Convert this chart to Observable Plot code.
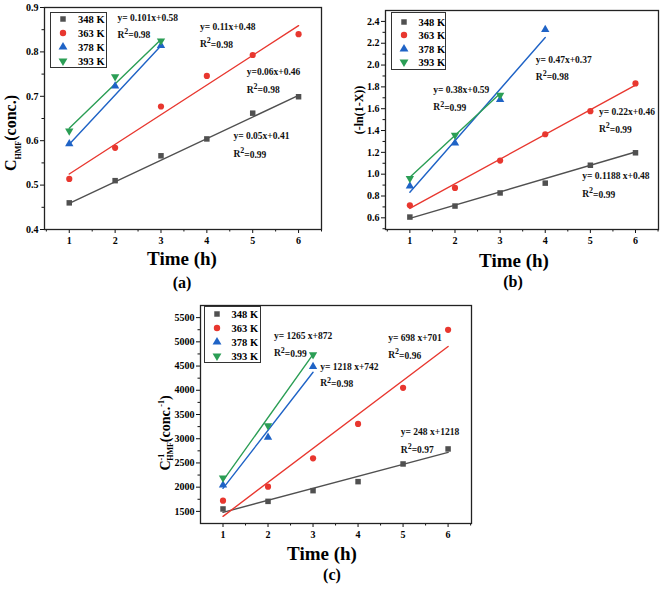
<!DOCTYPE html>
<html><head><meta charset="utf-8">
<script src="https://cdn.jsdelivr.net/npm/d3@7"></script>
<script src="https://cdn.jsdelivr.net/npm/@observablehq/plot@0.6"></script>
<style>
body{margin:0;background:#fff;}
#page{position:relative;width:661px;height:591px;overflow:hidden;font-family:"Liberation Serif","Times New Roman",serif;font-weight:bold;color:#000;}
.panel{position:absolute;}
.lbl{position:absolute;white-space:nowrap;transform:translate(-50%,-50%);line-height:1;}
.ylbl{position:absolute;white-space:nowrap;transform:translate(-50%,-50%) rotate(-90deg);line-height:1;}
.legend{position:absolute;border:1px solid #333;background:#fff;box-sizing:border-box;}
.legend .row{position:absolute;white-space:nowrap;font-size:10.5px;line-height:1;transform:translateY(-50%);}
.legend svg{position:absolute;overflow:visible;}
</style></head><body><div id="page"></div>
<script>
// ---------- shared ----------
const times = [1, 2, 3, 4, 5, 6];
const series = ["348 K", "363 K", "378 K", "393 K"];
const colors = ["#505050", "#e8372f", "#1f63c6", "#2b9e55"];
const symbolNames = ["square", "circle", "triangle", "triangle"];

// ---------- panel (a): C_HMF ----------
const a348 = [0.460, 0.510, 0.566, 0.604, 0.662, 0.699];
const a363 = [0.514, 0.584, 0.677, 0.746, 0.793, 0.840];
const a378 = [0.593, 0.723, 0.814];
const a393 = [0.622, 0.744, 0.825];
const aFitStart = [0.459, 0.525, 0.592, 0.628];
const aFitEnd = [0.702, 0.859, 0.814, 0.828];
const aFitEndTime = [6, 6, 3, 3];
const aNotes = [
  {x: 2.05, y: 0.877, t: "y= 0.101x+0.58"}, {x: 2.05, y: 0.839, t: "R²=0.98"},
  {x: 3.85, y: 0.856, t: "y= 0.11x+0.48"}, {x: 3.85, y: 0.818, t: "R²=0.98"},
  {x: 4.87, y: 0.754, t: "y=0.06x+0.46"}, {x: 4.87, y: 0.715, t: "R²=0.98"},
  {x: 4.58, y: 0.610, t: "y= 0.05x+0.41"}, {x: 4.58, y: 0.570, t: "R²=0.99"}
];
const aYTicks = [0.4, 0.5, 0.6, 0.7, 0.8, 0.9];

// ---------- panel (b): -ln(1-X) ----------
const b348 = [0.607, 0.708, 0.828, 0.918, 1.082, 1.196];
const b363 = [0.715, 0.874, 1.125, 1.366, 1.577, 1.832];
const b378 = [0.890, 1.286, 1.684, 2.326];
const b393 = [0.962, 1.357, 1.724];
const bFitStart = [0.595, 0.686, 0.834, 0.972];
const bFitEnd = [1.203, 1.816, 2.252, 1.740];
const bFitEndTime = [6, 6, 4, 3];
const bNotes = [
  {x: 1.52, y: 1.774, t: "y= 0.38x+0.59"}, {x: 1.52, y: 1.612, t: "R²=0.99"},
  {x: 3.79, y: 2.043, t: "y= 0.47x+0.37"}, {x: 3.79, y: 1.893, t: "R²=0.98"},
  {x: 5.19, y: 1.567, t: "y= 0.22x+0.46"}, {x: 5.19, y: 1.415, t: "R²=0.99"},
  {x: 4.82, y: 0.982, t: "y= 0.1188 x+0.48"}, {x: 4.82, y: 0.820, t: "R²=0.99"}
];
const bYTicks = [0.6, 0.8, 1.0, 1.2, 1.4, 1.6, 1.8, 2.0, 2.2, 2.4];

// ---------- panel (c): 1/C_HMF ----------
const c348 = [1550, 1707, 1928, 2114, 2479, 2789];
const c363 = [1721, 2010, 2595, 3305, 4050, 5248];
const c378 = [2045, 3029, 4490];
const c393 = [2190, 3271, 4735];
const cFitStart = [1480, 1397, 1975, 2134];
const cFitEnd = [2719, 4903, 4372, 4740];
const cFitEndTime = [6, 6, 3, 3];
const cNotes = [
  {x: 2.13, y: 5130, t: "y= 1265 x+872"}, {x: 2.13, y: 4765, t: "R²=0.99"},
  {x: 3.16, y: 4490, t: "y= 1218 x+742"}, {x: 3.16, y: 4145, t: "R²=0.98"},
  {x: 4.67, y: 5074, t: "y= 698 x+701"}, {x: 4.67, y: 4731, t: "R²=0.96"},
  {x: 4.95, y: 3132, t: "y= 248 x+1218"}, {x: 4.95, y: 2775, t: "R²=0.97"}
];
const cYTicks = [1500, 2000, 2500, 3000, 3500, 4000, 4500, 5000, 5500];

// ---------- builders ----------
function points(vals) {
  const rows = [];
  vals.forEach((arr, i) => arr.forEach((v, j) => rows.push({s: series[i], x: times[j], y: v})));
  return rows;
}
function fits(start, end, endT) {
  const rows = [];
  series.forEach((s, i) => { rows.push({s, x: times[0], y: start[i]}); rows.push({s, x: endT[i], y: end[i]}); });
  return rows;
}
function minorOf(ticks) {
  const step = ticks[1] - ticks[0];
  const out = [];
  for (let i = -1; i < ticks.length; i++) out.push(+(ticks[0] + (i + 0.5) * step).toFixed(6));
  return out;
}

function makePanel(cfg) {
  const pts = points(cfg.vals);
  const fl = fits(cfg.fitStart, cfg.fitEnd, cfg.fitEndT);
  const yMinor = minorOf(cfg.yTicks).filter(v => v > cfg.yDomain[0] && v < cfg.yDomain[1]);
  const xMinor = [0.5, 1.5, 2.5, 3.5, 4.5, 5.5, 6.5].filter(v => v > cfg.xDomain[0] && v < cfg.xDomain[1] + 0.001);
  const svg = Plot.plot({
    width: cfg.width, height: cfg.height,
    marginLeft: cfg.ml, marginRight: cfg.mr, marginTop: cfg.mt, marginBottom: cfg.mb,
    style: {fontFamily: '"Liberation Serif","Times New Roman",serif', fontWeight: "bold", fontSize: "10px", color: "#111", background: "transparent", overflow: "visible"},
    x: {domain: cfg.xDomain},
    y: {domain: cfg.yDomain},
    color: {domain: series, range: colors},
    symbol: {domain: series, range: symbolNames},
    marks: [
      Plot.axisY(cfg.yTicks, {tickSize: 4, tickPadding: 2, tickFormat: cfg.yFormat, label: null, fill: "#000"}),
      Plot.axisY(yMinor, {tickSize: 2.5, tickFormat: () => "", label: null}),
      Plot.axisX(times, {tickSize: 4, tickPadding: 3, label: null, fill: "#000"}),
      Plot.axisX(xMinor, {tickSize: 2.5, tickFormat: () => "", label: null}),
      Plot.line(fl, {x: "x", y: "y", z: "s", stroke: "s", strokeWidth: 1.4}),
      Plot.dot(pts.filter(d => d.s !== "393 K"), {x: "x", y: "y", fill: "s", symbol: "s", r: 3.1}),
      Plot.dot(pts.filter(d => d.s === "393 K"), {x: "x", y: "y", fill: "s", symbol: "s", r: 3.1, rotate: 180}),
      Plot.text(cfg.notes, {x: "x", y: "y", text: "t", textAnchor: "start", fontSize: 9.5, fill: "#111", className: "note"}),
      Plot.frame({stroke: "#222", strokeWidth: 1.3})
    ]
  });
  // render R² with a real superscript 2
  d3.select(svg).selectAll("text").each(function() {
    const t = this.textContent;
    if (t.startsWith("R²")) {
      const rest = t.slice(2);
      this.textContent = "";
      d3.select(this).append("tspan").text("R");
      d3.select(this).append("tspan").attr("dy", "-0.45em").attr("font-size", "8px").text("2");
      d3.select(this).append("tspan").attr("dy", "0.45em").text(rest);
    }
  });
  return svg;
}

const page = document.getElementById("page");
function place(el, left, top) {
  const d = document.createElement("div");
  d.className = "panel"; d.style.left = left + "px"; d.style.top = top + "px";
  d.appendChild(el); page.appendChild(d);
}
function label(html, cx, cy, size, cls) {
  const d = document.createElement("div");
  d.className = cls || "lbl"; d.innerHTML = html;
  d.style.left = cx + "px"; d.style.top = cy + "px"; d.style.fontSize = size + "px";
  page.appendChild(d);
}
function legend(left, top, w, h, row0, gap, symX, textX) {
  const box = document.createElement("div");
  box.className = "legend";
  Object.assign(box.style, {left: left + "px", top: top + "px", width: w + "px", height: h + "px"});
  const shapes = [d3.symbolSquare, d3.symbolCircle, d3.symbolTriangle, d3.symbolTriangle];
  const sizes = [30, 32, 34, 34];
  series.forEach((s, i) => {
    const cy = row0 + i * gap;
    const svg = d3.create("svg").attr("width", 1).attr("height", 1)
      .style("left", (symX - 1) + "px").style("top", (cy - 1) + "px");
    svg.append("path").attr("d", d3.symbol(shapes[i], sizes[i])())
      .attr("fill", colors[i]).attr("transform", i === 3 ? "rotate(180)" : null);
    box.appendChild(svg.node());
    const r = document.createElement("div");
    r.className = "row"; r.textContent = s;
    r.style.left = textX + "px"; r.style.top = cy + "px";
    box.appendChild(r);
  });
  page.appendChild(box);
}

// panel a
place(makePanel({
  width: 330, height: 250, ml: 44, mr: 9, mt: 7, mb: 21,
  xDomain: [0.46, 6.5], yDomain: [0.4, 0.9],
  vals: [a348, a363, a378, a393], fitStart: aFitStart, fitEnd: aFitEnd, fitEndT: aFitEndTime,
  yTicks: aYTicks, yFormat: d3.format(".1f"), notes: aNotes
}), 0, 0);
// panel b
place(makePanel({
  width: 331, height: 250, ml: 55, mr: 3, mt: 10, mb: 21,
  xDomain: [0.46, 6.51], yDomain: [0.493, 2.5],
  vals: [b348, b363, b378, b393], fitStart: bFitStart, fitEnd: bFitEnd, fitEndT: bFitEndTime,
  yTicks: bYTicks, yFormat: d3.format(".1f"), notes: bNotes
}), 330, 0);
// panel c
place(makePanel({
  width: 320, height: 250, ml: 40, mr: 9, mt: 10, mb: 22,
  xDomain: [0.5, 6.52], yDomain: [1250, 5750],
  vals: [c348, c363, c378, c393], fitStart: cFitStart, fitEnd: cFitEnd, fitEndT: cFitEndTime,
  yTicks: cYTicks, yFormat: d3.format("d"), notes: cNotes
}), 160, 295);

// axis titles and panel letters
label("Time (h)", 182, 258, 19);
label("(a)", 182, 283, 16);
label("Time (h)", 514, 260, 19);
label("(b)", 513, 282, 16);
label("Time (h)", 322, 553, 19);
label("(c)", 332, 575, 16);
label('C<sub style="font-size:8px">HMF</sub>(conc.)', 13, 133, 16, "ylbl");
label('(-ln(1-X))', 359, 110, 12, "ylbl");
label('C<sup style="font-size:8px">-1</sup><sub style="font-size:8px;margin-left:-7px">HMF</sub>(conc.<sup style="font-size:8px">-1</sup>)', 167, 433, 14, "ylbl");

// legends
legend(50, 12, 57, 56, 6.5, 14, 13, 27);
legend(391, 12, 55, 58, 9.7, 13.5, 12.5, 26.5);
legend(204, 306, 57, 57, 8, 14, 12.5, 26.5);
</script></body></html>
